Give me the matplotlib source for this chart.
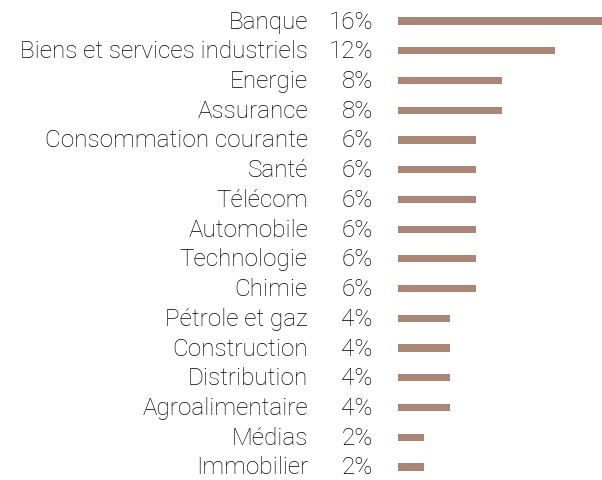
import matplotlib
matplotlib.use('Agg')
import matplotlib.pyplot as plt

categories = ['Banque', 'Biens et services industriels', 'Energie', 'Assurance',
              'Consommation courante', 'Santé', 'Télécom', 'Automobile',
              'Technologie', 'Chimie', 'Pétrole et gaz', 'Construction',
              'Distribution', 'Agroalimentaire', 'Médias', 'Immobilier']
values = [16, 12, 8, 8, 6, 6, 6, 6, 6, 6, 4, 4, 4, 4, 2, 2]
pct_labels = ['16%', '12%', '8%', '8%', '6%', '6%', '6%', '6%',
              '6%', '6%', '4%', '4%', '4%', '4%', '2%', '2%']

bar_color = '#a98676'

plt.rcParams['font.family'] = ['Roboto', 'DejaVu Sans']

fig = plt.figure(figsize=(6.02, 4.81), dpi=100)
W, H = 602, 481
ax = fig.add_axes([398 / W, 0, 1 - 398 / W, 1])

ypos = list(range(len(categories)))
ax.barh(ypos, values, height=0.24, color=bar_color)

# bars: ~13 px per percent, Banque runs off the right edge
px_per_unit = 13.05
ax.set_xlim(0, 204 / px_per_unit)
row_px = (468 - 22) / 15
ax.set_ylim((481 - 22) / row_px, -22 / row_px)

for y, cat, pct in zip(ypos, categories, pct_labels):
    ax.annotate(pct, xy=(0, y), xytext=(-25, 0), textcoords='offset pixels',
                ha='right', va='center', fontsize=17.5, fontweight='light',
                color='#000000', annotation_clip=False)
    ax.annotate(cat, xy=(0, y), xytext=(-90, 0), textcoords='offset pixels',
                ha='right', va='center', fontsize=17.5, fontweight='light',
                color='#000000', annotation_clip=False)

ax.axis('off')
fig.savefig('out.png', dpi=100)
